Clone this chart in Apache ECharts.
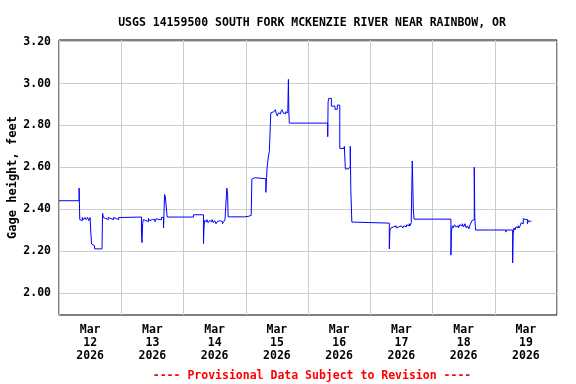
<!DOCTYPE html>
<html>
<head>
<meta charset="utf-8">
<script src="https://cdn.jsdelivr.net/npm/echarts@6/dist/echarts.min.js"></script>
<style>
  html, body { margin: 0; padding: 0; background: #fff; }
  #chart { width: 576px; height: 384px; }
</style>
</head>
<body>
<div id="chart"></div>
<script>
// hours since Mar 12 2026 00:00 and gage height (feet)
const hours = [
  0, 7.75, 8.0, 8.5, 9.0, 9.5, 10.0, 10.5, 11.0, 11.5, 12.0,
  12.2, 12.55, 13.0, 13.7, 16.6, 16.8, 17.1, 17.5, 18.0, 18.5, 19.0, 19.5, 20.0,
  20.5, 21.0, 21.5, 22.0, 22.5, 23.0, 24.0,
  31.8, 32.0, 32.25, 32.5, 33.0, 33.5, 34.0, 34.5, 35.0, 35.5, 36.0, 36.5, 37.0,
  37.5, 38.0, 38.5, 39.0, 39.5, 40.3, 40.7, 41.0, 41.7,
  51.85, 55.7, 55.9, 56.1, 56.5, 57.0, 57.5, 58.0, 58.5, 59.0, 59.5, 60.0, 60.5,
  61.0, 61.5, 62.0, 62.5, 63.0, 63.5, 64.0, 64.7, 65.0, 65.2,
  71.5, 72.9, 74.1, 74.35, 75.0, 75.5, 76.0, 79.75, 80.0, 80.25, 80.75, 81.1,
  81.65, 82.2, 82.8, 83.4, 83.8, 84.2, 84.6, 85.0, 85.5, 86.0, 86.4, 86.9, 87.4,
  87.9, 88.2, 88.45, 88.6, 88.8, 97.5, 97.7, 99.2, 99.4,
  103.6, 103.75, 104.0, 105.0, 106.4, 107.3, 108.25, 110.0, 110.4, 111.45, 112.3,
  112.5, 112.9, 113.2,
  127.35, 127.6, 128.0, 128.5, 129.0, 129.5, 130.0, 130.5, 131.0, 131.5, 132.0,
  132.5, 133.0, 133.5, 134.0, 134.5, 135.0, 135.3, 135.8, 136.2, 136.4, 136.6, 136.9,
  151.1, 151.3, 151.6, 152.0, 152.5, 153.0, 153.5, 154.0, 154.5, 155.0, 155.5,
  156.0, 156.5, 157.0, 157.5, 158.0, 158.5, 159.2, 159.6, 160.1, 160.3, 160.6,
  172.3, 172.5, 174.9, 175.1, 175.4, 175.8, 176.2, 176.6, 177.0, 177.4, 177.8,
  178.2, 178.6, 179.0, 179.4, 179.8, 180.2, 180.6, 181.0, 181.4, 181.8, 182.2
];
const gage = [
  2.44, 2.50, 2.35, 2.345, 2.36, 2.35, 2.36, 2.35, 2.36, 2.345, 2.36,
  2.30, 2.233, 2.225, 2.21, 2.225, 2.38, 2.36, 2.355, 2.36, 2.35, 2.36, 2.355, 2.36,
  2.35, 2.36, 2.355, 2.36, 2.35, 2.36, 2.362,
  2.29, 2.24, 2.33, 2.35, 2.345, 2.35, 2.34, 2.355, 2.345, 2.35, 2.345, 2.35, 2.34,
  2.355, 2.35, 2.345, 2.35, 2.36, 2.31, 2.47, 2.46, 2.362,
  2.373, 2.235, 2.31, 2.345, 2.34, 2.35, 2.335, 2.345, 2.34, 2.35, 2.335, 2.345, 2.33,
  2.34, 2.345, 2.35, 2.34, 2.33, 2.34, 2.35, 2.50, 2.47, 2.363,
  2.365, 2.37, 2.372, 2.543, 2.55, 2.545, 2.545, 2.48, 2.55, 2.60, 2.654, 2.675,
  2.86, 2.865, 2.86, 2.875, 2.855, 2.845, 2.86, 2.855, 2.865, 2.875, 2.86, 2.855, 2.865,
  2.86, 2.865, 3.02, 2.87, 2.811, 2.805, 2.811, 2.805, 2.811,
  2.746, 2.912, 2.929, 2.892, 2.877, 2.897, 2.69, 2.70, 2.592, 2.60, 2.70,
  2.495, 2.338, 2.333,
  2.21, 2.30, 2.31, 2.315, 2.31, 2.32, 2.31, 2.315, 2.31, 2.32, 2.315,
  2.31, 2.32, 2.315, 2.325, 2.32, 2.33, 2.32, 2.335, 2.63, 2.52, 2.40, 2.352,
  2.18, 2.29, 2.32, 2.31, 2.325, 2.315, 2.32, 2.31, 2.325, 2.32, 2.33,
  2.315, 2.33, 2.31, 2.32, 2.305, 2.325, 2.345, 2.35, 2.60, 2.36, 2.30,
  2.29, 2.30, 2.143, 2.28, 2.31, 2.30, 2.315, 2.31, 2.32, 2.31, 2.32,
  2.335, 2.33, 2.355, 2.35, 2.345, 2.35, 2.33, 2.345, 2.34, 2.345, 2.345
];

// axis ticks
const yTicks = [2.0, 2.2, 2.4, 2.6, 2.8, 3.0, 3.2];
const dayNoons = [12, 36, 60, 84, 108, 132, 156, 180];
const dayLabels = ['Mar\n12\n2026', 'Mar\n13\n2026', 'Mar\n14\n2026', 'Mar\n15\n2026',
                   'Mar\n16\n2026', 'Mar\n17\n2026', 'Mar\n18\n2026', 'Mar\n19\n2026'];

(function () {
    const font = '"DejaVu Sans Mono", monospace';
    const chart = echarts.init(document.getElementById('chart'));

    chart.setOption({
        backgroundColor: '#fff',
        animation: false,
        title: [
            {
                text: 'USGS 14159500 SOUTH FORK MCKENZIE RIVER NEAR RAINBOW, OR',
                left: 307, top: 12, textAlign: 'center',
                textStyle: { fontFamily: font, fontSize: 11.5, fontWeight: 'bold', color: '#000' }
            },
            {
                text: '---- Provisional Data Subject to Revision ----',
                left: 307, top: 365, textAlign: 'center',
                textStyle: { fontFamily: font, fontSize: 11.5, fontWeight: 'bold', color: '#ff0000' }
            }
        ],
        grid: {
            left: 59, top: 40, width: 498, height: 275,
            outerBoundsMode: 'none',
            show: true, borderColor: '#000', borderWidth: 1, backgroundColor: 'transparent'
        },
        xAxis: {
            type: 'value',
            min: 0, max: 192, interval: 24,
            axisLine: { show: false },
            axisTick: { show: false },
            splitLine: { show: true, lineStyle: { color: '#cccccc', width: 1 } },
            axisLabel: {
                customValues: dayNoons,
                formatter: v => dayLabels[dayNoons.indexOf(v)] || '',
                fontFamily: font, fontSize: 11.5, fontWeight: 'bold', color: '#000',
                lineHeight: 13, margin: 9
            }
        },
        yAxis: {
            type: 'value',
            min: 1.894, max: 3.208,
            name: 'Gage height, feet',
            nameLocation: 'middle', nameGap: 40,
            nameMoveOverlap: false,
            nameTextStyle: { fontFamily: font, fontSize: 12, fontWeight: 'bold', color: '#000' },
            axisLine: { show: false },
            axisTick: { show: false, customValues: yTicks },
            splitLine: { show: true, lineStyle: { color: '#cccccc', width: 1 } },
            axisLabel: {
                customValues: yTicks,
                formatter: v => v.toFixed(2),
                fontFamily: font, fontSize: 11.5, fontWeight: 'bold', color: '#000',
                margin: 8
            }
        },
        series: [{
            type: 'line',
            step: 'end',
            data: hours.map((h, i) => [h, gage[i]]),
            showSymbol: false,
            lineStyle: { color: '#0000ff', width: 1 },
            itemStyle: { color: '#0000ff' }
        }]
    });
})();
</script>
</body>
</html>
